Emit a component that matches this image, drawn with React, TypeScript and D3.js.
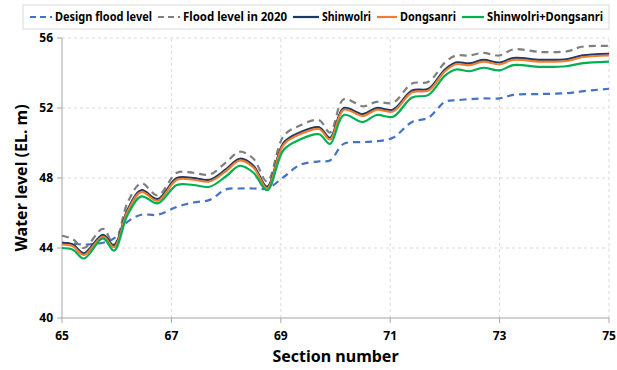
import React from "react";
import * as d3 from "d3";

// section positions shared by all series
const sections = [65.0, 65.2, 65.4, 65.75, 65.95, 66.2, 66.45, 66.75, 67.1, 67.4, 67.7, 68.0, 68.25, 68.5, 68.75, 69.05, 69.35, 69.7, 69.9, 70.15, 70.5, 70.75, 71.05, 71.4, 71.7, 72.0, 72.2, 72.45, 72.7, 73.0, 73.25, 73.75, 74.25, 74.5, 75.0];

const designFlood = [44.3, 44.25, 44.2, 44.3, 44.55, 45.5, 45.9, 45.9, 46.35, 46.6, 46.75, 47.35, 47.4, 47.4, 47.4, 48.05, 48.75, 48.95, 49.0, 49.95, 50.05, 50.1, 50.3, 51.2, 51.45, 52.35, 52.45, 52.5, 52.55, 52.55, 52.75, 52.8, 52.85, 52.95, 53.1];
const flood2020 = [44.7, 44.5, 44.0, 45.1, 44.2, 46.6, 47.7, 47.0, 48.3, 48.3, 48.2, 48.9, 49.5, 49.1, 47.8, 50.4, 51.0, 51.3, 50.6, 52.5, 52.1, 52.35, 52.3, 53.4, 53.5, 54.6, 55.0, 55.0, 55.15, 55.0, 55.35, 55.2, 55.25, 55.5, 55.55];
const shinwolri = [44.3, 44.2, 43.7, 44.75, 44.15, 46.2, 47.3, 46.8, 48.0, 48.0, 47.9, 48.5, 49.1, 48.7, 47.5, 50.0, 50.6, 50.9, 50.3, 52.0, 51.65, 52.0, 51.9, 53.0, 53.1, 54.2, 54.6, 54.55, 54.75, 54.6, 54.85, 54.75, 54.8, 55.0, 55.1];
const dongsanri = [44.2, 44.1, 43.6, 44.65, 44.05, 46.1, 47.2, 46.7, 47.9, 47.9, 47.8, 48.4, 49.0, 48.6, 47.4, 49.9, 50.5, 50.8, 50.2, 51.9, 51.55, 51.9, 51.8, 52.9, 53.0, 54.1, 54.5, 54.45, 54.65, 54.5, 54.75, 54.65, 54.7, 54.9, 55.0];
const combined = [44.0, 43.9, 43.4, 44.55, 43.85, 45.9, 46.95, 46.55, 47.6, 47.6, 47.5, 48.1, 48.7, 48.3, 47.3, 49.6, 50.2, 50.5, 49.95, 51.6, 51.2, 51.6, 51.5, 52.6, 52.75, 53.85, 54.2, 54.1, 54.3, 54.15, 54.45, 54.35, 54.4, 54.55, 54.65];

const xTicks = [65, 67, 69, 71, 73, 75];
const yTicks = [40, 44, 48, 52, 56];

const series = [
  { name: "Design flood level", values: designFlood, color: "#4472C4", dash: "7,5" },
  { name: "Flood level in 2020", values: flood2020, color: "#7F7F7F", dash: "7,5" },
  { name: "Shinwolri", values: shinwolri, color: "#1F3864", dash: null },
  { name: "Dongsanri", values: dongsanri, color: "#ED7D31", dash: null },
  { name: "Shinwolri+Dongsanri", values: combined, color: "#00B050", dash: null },
];

const W = 617, H = 370;
const margin = { left: 62, right: 8, top: 38, bottom: 52 };
const font = "'Noto Sans', sans-serif";

// legend: sample start, text start, text width
const legendLayout = [
  [30, 55, 97],
  [158, 183, 104],
  [293, 322, 49],
  [377, 400, 56],
  [462, 487, 116],
];

export default function App() {
  const x = d3.scaleLinear().domain([65, 75]).range([margin.left, W - margin.right]);
  const y = d3.scaleLinear().domain([40, 56]).range([H - margin.bottom, margin.top]);
  const line = d3.line<number>()
    .x((d, i) => x(sections[i]))
    .y((d) => y(d))
    .curve(d3.curveCatmullRom.alpha(0.5));

  return (
    <svg width={W} height={H} style={{ position: "absolute", left: 0, top: 0 }} fontFamily={font}>
      <rect width={W} height={H} fill="#fff" />
      {/* grid */}
      {yTicks.filter((t) => t > 40).map((t) => (
        <line key={"gy" + t} x1={x(65)} x2={x(75)} y1={y(t)} y2={y(t)} stroke="#D9D9D9" strokeDasharray="3,3" />
      ))}
      {xTicks.filter((t) => t > 65).map((t) => (
        <line key={"gx" + t} x1={x(t)} x2={x(t)} y1={y(40)} y2={y(56)} stroke="#D9D9D9" strokeDasharray="3,3" />
      ))}
      {/* axes */}
      <line x1={x(65)} x2={x(65)} y1={y(40)} y2={y(56)} stroke="#A6A6A6" />
      <line x1={x(65)} x2={x(75)} y1={y(40)} y2={y(40)} stroke="#A6A6A6" />
      {yTicks.map((t) => (
        <g key={"ty" + t}>
          <line x1={x(65) - 5} x2={x(65)} y1={y(t)} y2={y(t)} stroke="#A6A6A6" />
          <text x={x(65) - 9} y={y(t)} dy="0.35em" textAnchor="end" fontSize={12} fontWeight="bold" fill="#000">{t}</text>
        </g>
      ))}
      {xTicks.map((t) => (
        <g key={"tx" + t}>
          <line x1={x(t)} x2={x(t)} y1={y(40)} y2={y(40) + 5} stroke="#A6A6A6" />
          <text x={x(t)} y={y(40) + 22} textAnchor="middle" fontSize={12} fontWeight="bold" fill="#000">{t}</text>
        </g>
      ))}
      <text x={(x(65) + x(75)) / 2} y={362} textAnchor="middle" fontSize={16} fontWeight="bold">Section number</text>
      <text transform={`translate(27,${(y(40) + y(56)) / 2}) rotate(-90)`} textAnchor="middle" fontSize={16} fontWeight="bold">Water level (EL. m)</text>
      {/* lines */}
      {series.map((s) => (
        <path key={s.name} d={line(s.values) || ""} fill="none" stroke={s.color} strokeWidth={2.2}
          strokeDasharray={s.dash || undefined} />
      ))}
      {/* legend */}
      <rect x={23} y={5} width={586} height={24} fill="#fff" stroke="#D9D9D9" />
      {series.map((s, i) => {
        const [sx, tx, tw] = legendLayout[i];
        return (
          <g key={"lg" + s.name}>
            <line x1={sx} x2={tx - 3} y1={17} y2={17} stroke={s.color} strokeWidth={2.2}
              strokeDasharray={s.dash ? "6,4" : undefined} />
            <text x={tx} y={17} dy="0.35em" fontSize={12} fontWeight="bold" textLength={tw}
              lengthAdjust="spacingAndGlyphs">{s.name}</text>
          </g>
        );
      })}
    </svg>
  );
}
